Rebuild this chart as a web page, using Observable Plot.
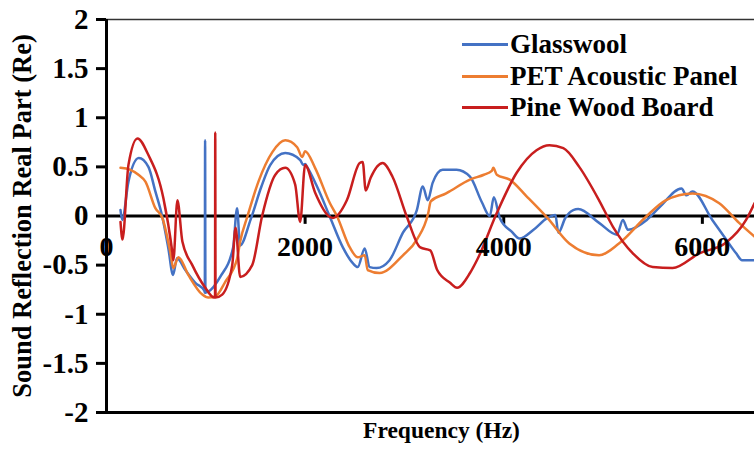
<!DOCTYPE html>
<html><head><meta charset="utf-8">
<script src="https://cdn.jsdelivr.net/npm/d3@7"></script>
<script src="https://cdn.jsdelivr.net/npm/@observablehq/plot@0.6"></script>
<style>
body{margin:0;background:#fff;}
#wrap{position:relative;width:754px;height:454px;overflow:hidden;font-family:"Liberation Serif",serif;font-weight:bold;}
#legend{position:absolute;left:462px;top:29px;}
.item{display:flex;align-items:center;height:31.5px;font-size:27px;line-height:1;}
.sw{width:46px;height:3px;margin-right:2px;}
</style></head><body><div id="wrap"><div id="legend"></div></div>
<script>
const seriesNames = ["Glasswool", "PET Acoustic Panel", "Pine Wood Board"];
const seriesColors = ["#4472C4", "#ED7D31", "#C81E1E"];
const xTicks = [0, 2000, 4000, 6000];
const yTicks = [-2, -1.5, -1, -0.5, 0, 0.5, 1, 1.5, 2];
const xTitle = "Frequency (Hz)";
const yTitle = "Sound Reflection Real Part (Re)";

const glasswoolF = [141,158,221,325,422,492,560,623,670,710,794,894,985,990,993,996,1025,1145,1275,1315,1345,1450,1560,1650,1800,1950,1980,2000,2020,2120,2250,2380,2480,2530,2600,2650,2720,2850,2985,3125,3185,3235,3285,3385,3525,3660,3780,3860,3900,3960,4080,4160,4300,4440,4520,4550,4620,4700,4750,4960,5140,5200,5250,5440,5570,5790,5840,5900,6100,6240,6340,6400,6525];
const glasswoolV = [0.06,-0.04,0.35,0.59,0.50,0.25,0.00,-0.33,-0.60,-0.43,-0.55,-0.68,-0.76,-0.78,0.77,-0.78,-0.77,-0.62,-0.32,0.08,-0.30,-0.04,0.30,0.52,0.64,0.57,0.52,0.53,0.50,0.30,-0.01,-0.32,-0.48,-0.52,-0.33,-0.52,-0.53,-0.45,-0.17,0.06,0.30,0.16,0.34,0.47,0.47,0.40,0.14,0.00,0.19,-0.02,-0.16,-0.23,-0.14,-0.02,0.01,-0.17,-0.02,0.06,0.07,-0.07,-0.19,-0.04,-0.14,-0.04,0.09,0.28,0.21,0.25,-0.04,-0.24,-0.38,-0.45,-0.45];

const petF = [141,241,322,392,492,563,643,673,724,824,965,1025,1095,1196,1316,1346,1420,1530,1670,1800,1920,1970,2000,2100,2250,2320,2450,2530,2600,2630,2750,2985,3125,3240,3265,3420,3470,3660,3800,3880,3895,3930,4060,4230,4440,4660,4960,5160,5430,5630,5900,6170,6370,6525];
const petV = [0.49,0.47,0.42,0.35,0.08,-0.02,-0.37,-0.53,-0.42,-0.60,-0.80,-0.83,-0.82,-0.67,-0.43,-0.26,0.00,0.35,0.65,0.77,0.70,0.60,0.66,0.49,0.13,0.00,-0.32,-0.42,-0.40,-0.55,-0.58,-0.40,-0.24,0.03,0.15,0.23,0.26,0.37,0.42,0.46,0.49,0.42,0.37,0.20,-0.02,-0.28,-0.40,-0.28,-0.01,0.16,0.23,0.13,-0.07,-0.21];

const pineF = [141,161,221,312,422,573,663,673,714,764,864,995,1085,1093,1095,1098,1165,1266,1300,1346,1467,1567,1700,1800,1900,1950,2000,2100,2250,2280,2420,2550,2580,2610,2660,2780,2880,3025,3160,3260,3330,3460,3530,3660,3740,3930,4130,4330,4460,4600,4760,4960,5100,5300,5500,5700,5970,6240,6440,6525];
const pineV = [-0.06,-0.24,0.52,0.79,0.62,0.18,-0.37,-0.45,0.16,-0.26,-0.50,-0.73,-0.83,-0.83,0.85,-0.83,-0.80,-0.50,-0.12,-0.62,-0.50,0.00,0.42,0.49,0.32,-0.06,0.52,0.24,-0.01,-0.02,0.16,0.54,0.55,0.26,0.39,0.54,0.40,-0.01,-0.32,-0.35,-0.55,-0.68,-0.73,-0.58,-0.43,0.03,0.44,0.67,0.72,0.69,0.50,0.16,-0.11,-0.38,-0.52,-0.53,-0.38,-0.27,-0.04,0.13];

const rows = [];
[[glasswoolF, glasswoolV], [petF, petV], [pineF, pineV]].forEach(([F, V], i) => {
  F.forEach((f, j) => rows.push({series: seriesNames[i], f, v: V[j]}));
});

const plot = Plot.plot({
  width: 754, height: 454,
  marginLeft: 106, marginRight: 0, marginTop: 19, marginBottom: 42,
  style: {fontFamily: "Liberation Serif", fontWeight: "bold", fontSize: "26px", background: "#fff", overflow: "hidden", color: "#000"},
  x: {domain: [0, 6525], axis: null},
  y: {domain: [-2, 2], axis: null},
  color: {domain: seriesNames, range: seriesColors},
  marks: [
    Plot.ruleY([2], {stroke: "#333", strokeWidth: 1.5}),
    Plot.ruleY([-2], {strokeWidth: 3}),
    Plot.ruleY([0], {strokeWidth: 3}),
    Plot.ruleX(xTicks.slice(1), {y1: 0, y2: -0.085, strokeWidth: 3}),
    Plot.line(rows, {x: "f", y: "v", z: "series", stroke: "series", strokeWidth: 2.5, curve: "monotone-x", clip: true}),
    Plot.axisY({ticks: yTicks, tickSize: 10, tickPadding: 8, tickFormat: d => String(d), fontSize: 29, strokeWidth: 3, label: null}),
    Plot.ruleX([0], {strokeWidth: 3}),
    Plot.text(xTicks, {x: d => d, y: 0, dy: 31, text: d => String(d), fontSize: 28}),
    Plot.text([yTitle], {frameAnchor: "left", textAnchor: "middle", rotate: -90, dx: -84, fontSize: 26.5}),
    Plot.text([xTitle], {frameAnchor: "bottom", textAnchor: "middle", dx: 11, dy: 25, fontSize: 23.5})
  ]
});
document.getElementById("wrap").prepend(plot);

const legend = document.getElementById("legend");
seriesNames.forEach((name, i) => {
  const item = document.createElement("div");
  item.className = "item";
  const sw = document.createElement("span");
  sw.className = "sw";
  sw.style.background = seriesColors[i];
  const t = document.createElement("span");
  t.textContent = name;
  item.append(sw, t);
  legend.append(item);
});
</script>
</body></html>
